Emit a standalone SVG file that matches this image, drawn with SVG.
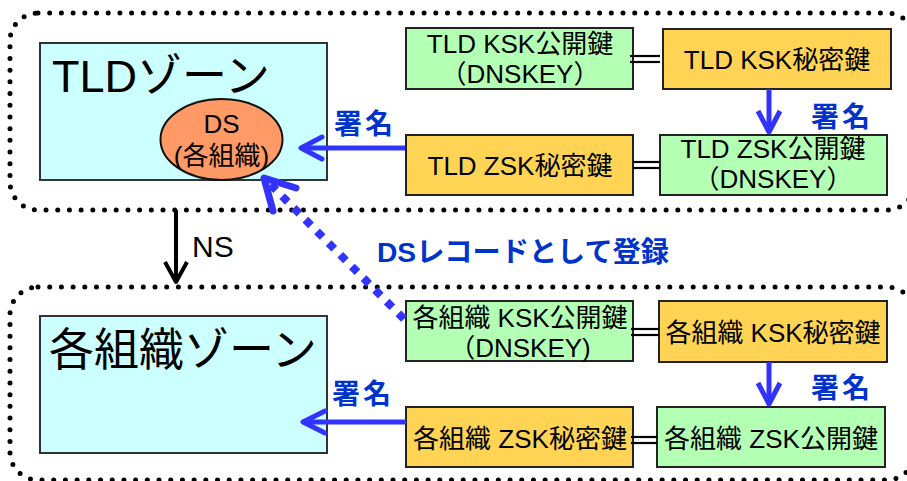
<svg xmlns="http://www.w3.org/2000/svg" width="907" height="481" viewBox="0 0 907 481">
<style>
text{font-family:"Liberation Sans","Noto Sans CJK JP",sans-serif;fill:#000}
.zone{fill:#CCFFFF;stroke:#333;stroke-width:2}
.pub{fill:#B3FFB3;stroke:#222;stroke-width:2}
.sec{fill:#FFD455;stroke:#222;stroke-width:2}
.dotted{fill:none;stroke:#000;stroke-width:5;stroke-linecap:round;stroke-dasharray:0 11.7}
.k{font-size:26px;text-anchor:middle}
.lbl{font-size:28px;font-weight:bold;fill:#0033CC;letter-spacing:3px}
.blue{fill:none;stroke:#3333FF;stroke-width:5}
.eq{stroke:#000;stroke-width:2.2}
</style>
<g id="tld-area"><rect class="dotted" x="10" y="13" width="905" height="197" rx="28"/></g>
<g id="org-area"><rect class="dotted" x="10" y="287" width="905" height="193" rx="28"/></g>

<g id="tld-zone">
<rect class="zone" x="40" y="43" width="287" height="137"/>
<text x="52" y="92" font-size="45">TLDゾーン</text>
</g>
<g id="ds">
<ellipse cx="221.5" cy="139.5" rx="61" ry="40.5" fill="#FF9966" stroke="#111" stroke-width="2"/>
<text x="221.5" y="133" font-size="26" text-anchor="middle">DS</text>
<text x="221.5" y="165" font-size="26" text-anchor="middle">(各組織)</text>
</g>
<g id="tld-ksk-pub">
<rect class="pub" x="406" y="28" width="227" height="61"/>
<text class="k" x="520" y="53">TLD KSK公開鍵</text>
<text class="k" x="520" y="83">（DNSKEY）</text>
</g>
<g id="tld-ksk-sec">
<rect class="sec" x="663" y="29" width="228" height="60"/>
<text class="k" x="777" y="69">TLD KSK秘密鍵</text>
</g>
<g id="tld-zsk-sec">
<rect class="sec" x="406" y="135" width="227" height="60"/>
<text class="k" x="520" y="175">TLD ZSK秘密鍵</text>
</g>
<g id="tld-zsk-pub">
<rect class="pub" x="660" y="135" width="227" height="60"/>
<text class="k" x="773" y="158">TLD ZSK公開鍵</text>
<text class="k" x="773" y="188">（DNSKEY）</text>
</g>

<g id="org-zone">
<rect class="zone" x="40" y="316" width="287" height="137"/>
<text x="49" y="366" font-size="45">各組織ゾーン</text>
</g>
<g id="org-ksk-pub">
<rect class="pub" x="406" y="301" width="227" height="60"/>
<text class="k" x="520" y="327">各組織 KSK公開鍵</text>
<text class="k" x="520" y="357">（DNSKEY)</text>
</g>
<g id="org-ksk-sec">
<rect class="sec" x="659" y="301" width="228" height="61"/>
<text class="k" x="773" y="342">各組織 KSK秘密鍵</text>
</g>
<g id="org-zsk-sec">
<rect class="sec" x="406" y="407" width="227" height="60"/>
<text class="k" x="520" y="448">各組織 ZSK秘密鍵</text>
</g>
<g id="org-zsk-pub">
<rect class="pub" x="657" y="407" width="228" height="60"/>
<text class="k" x="771" y="448">各組織 ZSK公開鍵</text>
</g>

<g id="connectors">
<line class="eq" x1="630" y1="56" x2="660" y2="56"/>
<line class="eq" x1="630" y1="62" x2="660" y2="62"/>
<line class="eq" x1="633" y1="162" x2="660" y2="162"/>
<line class="eq" x1="633" y1="168" x2="660" y2="168"/>
<line class="eq" x1="631" y1="329" x2="659" y2="329"/>
<line class="eq" x1="631" y1="335" x2="659" y2="335"/>
<line class="eq" x1="631" y1="437" x2="657" y2="437"/>
<line class="eq" x1="631" y1="443" x2="657" y2="443"/>

<line class="blue" x1="405" y1="148" x2="302" y2="148"/>
<polyline class="blue" points="322,137 301,148 322,159" stroke-linecap="round" stroke-linejoin="round"/>
<text class="lbl" x="334" y="134">署名</text>

<line class="blue" x1="406" y1="422" x2="304" y2="422"/>
<polyline class="blue" points="325,411 303,422 325,433" stroke-linecap="round" stroke-linejoin="round"/>
<text class="lbl" x="332" y="404">署名</text>

<line class="blue" x1="769" y1="89" x2="769" y2="131"/>
<polyline class="blue" points="758,111 769,132 780,111" stroke-linejoin="round"/>
<text class="lbl" x="811" y="127">署名</text>

<line class="blue" x1="769" y1="362" x2="769" y2="403"/>
<polyline class="blue" points="758,383 769,404 780,383" stroke-linejoin="round"/>
<text class="lbl" x="811" y="398">署名</text>

<line x1="176" y1="210" x2="176" y2="281" stroke="#000" stroke-width="4"/>
<polyline points="165,262 176,282 187,262" fill="none" stroke="#000" stroke-width="4" stroke-linejoin="round"/>
<text x="192" y="257" font-size="30">NS</text>

<line x1="404" y1="319" x2="269" y2="183" stroke="#3333FF" stroke-width="8" stroke-dasharray="8 8.5"/>
<polyline points="296,188 264,178 273,211" fill="none" stroke="#3333FF" stroke-width="7" stroke-linecap="round" stroke-linejoin="round"/>
<text x="377" y="262" font-size="28" font-weight="bold" fill="#0033CC" style="fill:#0033CC" textLength="292" lengthAdjust="spacingAndGlyphs">DSレコードとして登録</text>
</g>
</svg>
